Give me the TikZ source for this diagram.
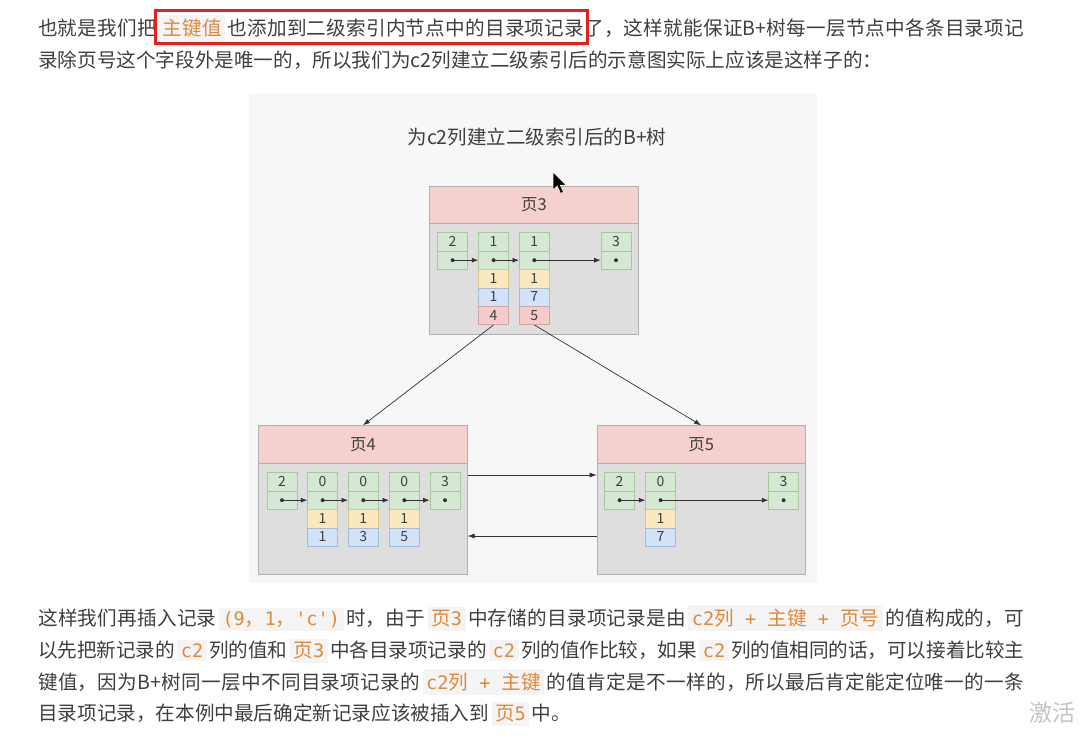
\documentclass[tikz,border=0pt]{standalone}
\usepackage{fontspec}
\setmainfont{Noto Sans CJK SC}
\newfontfamily\monof{DejaVu Sans Mono}
\usetikzlibrary{arrows.meta}
\newXeTeXintercharclass\cjkcls
\newcount\cjkcnt
\cjkcnt="4E00
\loop
  \XeTeXcharclass\cjkcnt=\cjkcls
  \ifnum\cjkcnt<"9FFF \advance\cjkcnt by 1
\repeat
\XeTeXcharclass"FF0C=\cjkcls
\XeTeXcharclass"FF1A=\cjkcls
\XeTeXcharclass"3002=\cjkcls
\XeTeXinterchartokenstate=1
\newcommand\cjkglue{\hskip 0pt plus 2pt minus 0.3pt}
\XeTeXinterchartoks \cjkcls \cjkcls = {\cjkglue}
\XeTeXinterchartoks 0 \cjkcls = {\cjkglue}
\XeTeXinterchartoks \cjkcls 0 = {\cjkglue}
\definecolor{txt}{HTML}{3F3F3F}
\definecolor{codebg}{HTML}{F4F4F4}
\definecolor{codeor}{HTML}{DD8A3A}
\definecolor{redbox}{HTML}{E4201E}
\definecolor{diagbg}{HTML}{F7F7F7}
\definecolor{pagebody}{HTML}{DEDEDE}
\definecolor{pageline}{HTML}{B0B0B0}
\definecolor{hdrfill}{HTML}{F6CFCF}
\definecolor{gfill}{HTML}{D5E8D4}
\definecolor{gline}{HTML}{A9C79C}
\definecolor{yfill}{HTML}{FCE8BE}
\definecolor{yline}{HTML}{DDC488}
\definecolor{bfill}{HTML}{D2E3F8}
\definecolor{bline}{HTML}{A3BCD9}
\definecolor{pfill}{HTML}{F6CCCB}
\definecolor{pline}{HTML}{D3A3A2}
\definecolor{arrc}{HTML}{333333}
\definecolor{wmark}{HTML}{C4C4C4}
\newcommand\cm[1]{{\monof\fontsize{18.6}{20}\selectfont #1}}
\newcommand\cd[1]{\hspace{2.5pt}{\setlength\fboxsep{3.5pt}\colorbox{codebg}{\color{codeor}#1}}\hspace{2.5pt}}
\tikzset{
  body/.style={anchor=base west, inner sep=0pt, text=txt, font=\fontsize{19.6}{24}\selectfont},
  pagebox/.style={draw=pageline, fill=pagebody, line width=0.6pt, anchor=north west, inner sep=0pt},
  pagehdr/.style={draw=pageline, fill=hdrfill, line width=0.6pt, anchor=north west, inner sep=0pt, text=txt, font=\fontsize{16.5}{18}\selectfont},
  cellbase/.style={minimum width=30pt, minimum height=18.4pt, inner sep=0pt, anchor=north west, line width=0.6pt, text=txt, font=\fontsize{14}{15}\selectfont},
  gc/.style={cellbase, draw=gline, fill=gfill},
  yc/.style={cellbase, draw=yline, fill=yfill},
  bc/.style={cellbase, draw=bline, fill=bfill},
  pc/.style={cellbase, draw=pline, fill=pfill},
  ptr/.style={draw=arrc, line width=0.8pt, -{Latex[length=6.5pt,width=5pt]}},
  big/.style={draw=arrc, line width=0.7pt, -{Latex[length=7pt,width=5pt]}},
  dot/.style={fill=arrc}
}
\begin{document}
\begin{tikzpicture}[x=1pt,y=-1pt]
\useasboundingbox (0,0) rectangle (1082,744);
\fill[white] (0,0) rectangle (1082,744);

% ---------- top paragraph ----------
\node[body] (l1) at (38,35.4) {\makebox[986pt][s]{也就是我们把\cd{主键值}也添加到二级索引内节点中的目录项记录了，这样就能保证B+树每一层节点中各条目录项记}};
\node[body] (l2) at (38,67.4) {录除页号这个字段外是唯一的，所以我们为c2列建立二级索引后的示意图实际上应该是这样子的：};
\draw[redbox, line width=3pt] (155,10.7) rectangle (587,43);

% ---------- diagram ----------
\fill[diagbg] (249,93) rectangle (817,583);
\node[text=txt, font=\fontsize{19.5}{21}\selectfont] (title) at (537,137) {为c2列建立二级索引后的B+树};

% page 3
\node[pagebox, minimum width=208.7pt, minimum height=148pt] (p3) at (429.3,186) {};
\node[pagehdr, minimum width=208.7pt, minimum height=36.7pt] (p3h) at (429.3,186) {页3};
\node[gc] (p3a0) at (437.3,232.3) {2};
\node[gc] (p3a1) at (437.3,250.7) {};
\node[gc] (p3b0) at (478.3,232.3) {1};
\node[gc] (p3b1) at (478.3,250.7) {};
\node[yc] (p3b2) at (478.3,269.1) {1};
\node[bc] (p3b3) at (478.3,287.5) {1};
\node[pc] (p3b4) at (478.3,305.9) {4};
\node[gc] (p3c0) at (519,232.3) {1};
\node[gc] (p3c1) at (519,250.7) {};
\node[yc] (p3c2) at (519,269.1) {1};
\node[bc] (p3c3) at (519,287.5) {7};
\node[pc] (p3c4) at (519,305.9) {5};
\node[gc] (p3d0) at (600.7,232.3) {3};
\node[gc] (p3d1) at (600.7,250.7) {};
\foreach \n in {p3a1,p3b1,p3c1,p3d1} \fill[dot] (\n.center) circle (2pt);
\draw[ptr] (p3a1.center) -- (p3b1.west);
\draw[ptr] (p3b1.center) -- (p3c1.west);
\draw[ptr] (p3c1.center) -- (p3d1.west);

% page 4
\node[pagebox, minimum width=208.7pt, minimum height=148.7pt] (p4) at (258.3,425.3) {};
\node[pagehdr, minimum width=208.7pt, minimum height=37.4pt] (p4h) at (258.3,425.3) {页4};
\node[gc] (p4a0) at (266.7,472.3) {2};
\node[gc] (p4a1) at (266.7,490.7) {};
\node[gc] (p4b0) at (307.3,472.3) {0};
\node[gc] (p4b1) at (307.3,490.7) {};
\node[yc] (p4b2) at (307.3,509.1) {1};
\node[bc] (p4b3) at (307.3,527.5) {1};
\node[gc] (p4c0) at (348,472.3) {0};
\node[gc] (p4c1) at (348,490.7) {};
\node[yc] (p4c2) at (348,509.1) {1};
\node[bc] (p4c3) at (348,527.5) {3};
\node[gc] (p4d0) at (389,472.3) {0};
\node[gc] (p4d1) at (389,490.7) {};
\node[yc] (p4d2) at (389,509.1) {1};
\node[bc] (p4d3) at (389,527.5) {5};
\node[gc] (p4e0) at (429.7,472.3) {3};
\node[gc] (p4e1) at (429.7,490.7) {};
\foreach \n in {p4a1,p4b1,p4c1,p4d1,p4e1} \fill[dot] (\n.center) circle (2pt);
\draw[ptr] (p4a1.center) -- (p4b1.west);
\draw[ptr] (p4b1.center) -- (p4c1.west);
\draw[ptr] (p4c1.center) -- (p4d1.west);
\draw[ptr] (p4d1.center) -- (p4e1.west);

% page 5
\node[pagebox, minimum width=208.3pt, minimum height=148.7pt] (p5) at (596.7,425.3) {};
\node[pagehdr, minimum width=208.3pt, minimum height=37.4pt] (p5h) at (596.7,425.3) {页5};
\node[gc] (p5a0) at (604.3,472.3) {2};
\node[gc] (p5a1) at (604.3,490.7) {};
\node[gc] (p5b0) at (645.3,472.3) {0};
\node[gc] (p5b1) at (645.3,490.7) {};
\node[yc] (p5b2) at (645.3,509.1) {1};
\node[bc] (p5b3) at (645.3,527.5) {7};
\node[gc] (p5c0) at (768.3,472.3) {3};
\node[gc] (p5c1) at (768.3,490.7) {};
\foreach \n in {p5a1,p5b1,p5c1} \fill[dot] (\n.center) circle (2pt);
\draw[ptr] (p5a1.center) -- (p5b1.west);
\draw[ptr] (p5b1.center) -- (p5c1.west);

% page links
\draw[big] (p3b4.south) -- (p4h.north);
\draw[big] (p3c4.south) -- (p5h.north);
\coordinate (ra) at (0,475);
\coordinate (rb) at (0,536);
\draw[big] (p4.east |- ra) -- (p5.west |- ra);
\draw[big] (p5.west |- rb) -- (p4.east |- rb);

% mouse cursor
\filldraw[fill=black, draw=white, line width=0.5pt] (553,172) -- (553,190) -- (557.3,186) -- (560.6,193.4) -- (563.4,192.2) -- (560.2,185) -- (566,185) -- cycle;

% ---------- bottom paragraph ----------
\node[body] (b1) at (38,625.4) {\makebox[986pt][s]{这样我们再插入记录\cd{\cm{(9}，\cm{1}，\cm{'c')}}时，由于\cd{页\cm{3}}中存储的目录项记录是由\cd{\cm{c2}列\cm{ + }主键\cm{ + }页号}的值构成的，可}};
\node[body] (b2) at (38,657.4) {\makebox[986pt][s]{以先把新记录的\cd{\cm{c2}}列的值和\cd{页\cm{3}}中各目录项记录的\cd{\cm{c2}}列的值作比较，如果\cd{\cm{c2}}列的值相同的话，可以接着比较主}};
\node[body] (b3) at (38,689.4) {\makebox[986pt][s]{键值，因为B+树同一层中不同目录项记录的\cd{\cm{c2}列\cm{ + }主键}的值肯定是不一样的，所以最后肯定能定位唯一的一条}};
\node[body] (b4) at (38,720.4) {目录项记录，在本例中最后确定新记录应该被插入到\cd{页\cm{5}}中。};

% watermark
\node[text=wmark, font=\fontsize{23}{24}\selectfont, anchor=east, inner sep=0pt] (wm) at (1076,713) {激活};
\end{tikzpicture}
\end{document}
